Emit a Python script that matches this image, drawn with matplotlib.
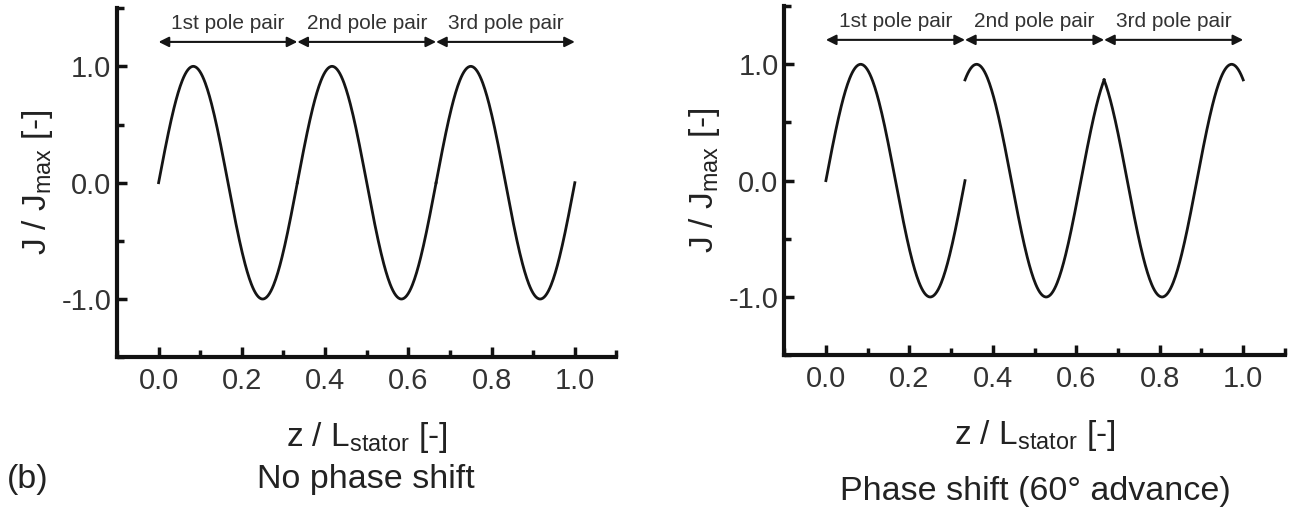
import numpy as np
import matplotlib.pyplot as plt
from matplotlib.ticker import MultipleLocator

plt.rcParams['font.family'] = ['Liberation Sans', 'DejaVu Sans']

# Three pole pairs along the stator, each one a full period of J/Jmax
pole_pairs = 3
pair_labels = ['1st pole pair', '2nd pole pair', '3rd pole pair']
pair_edges = [0.0, 1 / 3, 2 / 3, 1.0]

# Phase of each pole pair (degrees) for the two cases
phase_none = [0, 0, 0]
phase_advance = [0, 60, 120]

panel_titles = ['No phase shift', 'Phase shift (60° advance)']


def draw_panel(ax, phases):
    # one curve per pole pair so the jumps stay visible
    for i, ph in enumerate(phases):
        z = np.linspace(pair_edges[i], pair_edges[i + 1], 200)
        j = np.sin(2 * np.pi * pole_pairs * z + np.radians(ph))
        ax.plot(z, j, color='#151515', lw=2.0)

    # pole pair arrows along the top
    for i, lab in enumerate(pair_labels):
        ax.annotate('', xy=(pair_edges[i], 1.21), xytext=(pair_edges[i + 1], 1.21),
                    arrowprops=dict(arrowstyle='<|-|>', color='#151515', lw=1.5,
                                    mutation_scale=15, shrinkA=0, shrinkB=0))
        ax.text((pair_edges[i] + pair_edges[i + 1]) / 2, 1.37, lab,
                ha='center', va='center', fontsize=15, color='#333333')

    ax.set_xlim(-0.1, 1.1)
    ax.set_ylim(-1.5, 1.5)
    ax.set_xticks([0.0, 0.2, 0.4, 0.6, 0.8, 1.0])
    ax.set_yticks([-1.0, 0.0, 1.0])
    ax.xaxis.set_minor_locator(MultipleLocator(0.1))
    ax.yaxis.set_minor_locator(MultipleLocator(0.5))
    ax.set_xticklabels(['0.0', '0.2', '0.4', '0.6', '0.8', '1.0'])
    ax.set_yticklabels(['-1.0', '0.0', '1.0'])
    ax.tick_params(which='both', direction='in', width=2.5, colors='#111111',
                   labelcolor='#333333', labelsize=21)
    ax.tick_params(which='major', length=7)
    ax.tick_params(which='minor', length=5)
    ax.tick_params(axis='x', which='major', pad=7)
    ax.tick_params(axis='y', which='major', pad=4)
    for s in ['top', 'right']:
        ax.spines[s].set_visible(False)
    for s in ['left', 'bottom']:
        ax.spines[s].set_linewidth(3)
        ax.spines[s].set_color('#111111')
    ax.set_xlabel('z / L$_{\\mathregular{stator}}$ [-]', fontsize=24, color='#222222',
                  labelpad=18)
    ax.set_ylabel('J / J$_{\\mathregular{max}}$ [-]', fontsize=24, color='#222222',
                  labelpad=5)


fig = plt.figure(figsize=(12.94, 5.11), dpi=100)
ax1 = fig.add_axes([0.0904, 0.301, 0.386, 0.683])
ax2 = fig.add_axes([0.606, 0.305, 0.387, 0.683])

draw_panel(ax1, phase_none)
draw_panel(ax2, phase_advance)

fig.text(0.283, 0.045, panel_titles[0], ha='center', va='baseline', fontsize=24.5,
         color='#222222')
fig.text(0.800, 0.021, panel_titles[1], ha='center', va='baseline', fontsize=24.5,
         color='#222222')
fig.text(0.005, 0.045, '(b)', ha='left', va='baseline', fontsize=24.5, color='#222222')

fig.savefig('out.png', dpi=100)
